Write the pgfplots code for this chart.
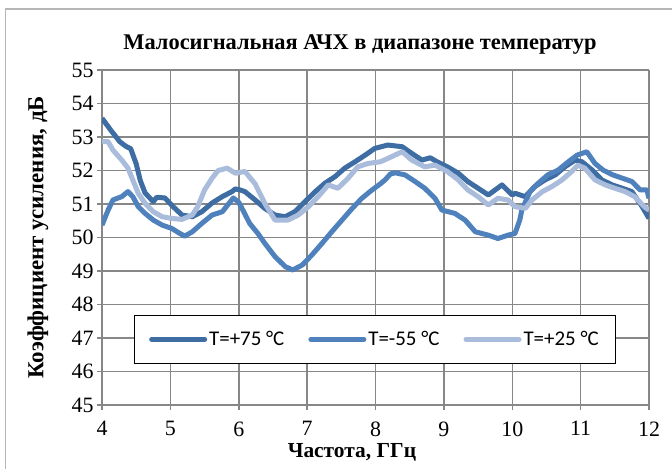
\documentclass[border=0pt]{standalone}
\usepackage{fontspec}
\setmainfont{Liberation Serif}
\newfontfamily\legfont{Carlito}
\usepackage{pgfplots}
\pgfplotsset{compat=1.18}
\definecolor{cDark}{HTML}{3E6DA4}
\definecolor{cMed}{HTML}{4F81BD}
\definecolor{cLight}{HTML}{A9BCDC}
\definecolor{cGrid}{HTML}{878787}
\begin{document}
\begin{tikzpicture}
\useasboundingbox (0,0) rectangle (672bp,469bp);
\fill[white] (0,0) rectangle (672bp,469bp);
\draw[cGrid!60, line width=1.5bp] (5.5bp,0) -- (5.5bp,460bp) -- (672bp,460bp);
\begin{axis}[
  at={(102bp,64bp)}, anchor=south west,
  width=547bp, height=335bp, scale only axis,
  xmin=4, xmax=12, ymin=45, ymax=55,
  xtick={4,5,...,12}, ytick={45,46,...,55},
  grid=major, major grid style={cGrid, line width=1.5bp},
  axis x line*=bottom, axis y line*=left,
  axis line style={cGrid, line width=1.5bp},
  tick style={cGrid, line width=1.5bp},
  tick align=outside, major tick length=5bp,
  ticklabel style={font=\fontsize{22}{26}\selectfont},
  xticklabel style={yshift=-8bp},
  /pgf/number format/assume math mode=true,
  title={Малосигнальная АЧХ в диапазоне температур},
  title style={at={(axis description cs:0.4717,1.057)}, anchor=center, font=\bfseries\fontsize{22.5}{26}\selectfont},
  xlabel={Частота, ГГц},
  xlabel style={at={(axis description cs:0.457,-0.142)}, anchor=center, font=\bfseries\fontsize{21.5}{26}\selectfont},
  ylabel={Коэффициент усиления, дБ},
  ylabel style={at={(axis description cs:-0.117,0.5)}, anchor=center, font=\bfseries\fontsize{23}{26}\selectfont},
  legend columns=3,
  legend style={at={(0.499,0.196)}, anchor=center, draw=black, line width=1bp,
    font=\legfont\fontsize{21}{25}\selectfont, inner xsep=15bp, inner ysep=14bp,
    /tikz/every even column/.append style={column sep=22bp}},
  legend image code/.code={\draw[#1, line cap=round] (0bp,0bp) -- (53bp,0bp);},
  every axis plot/.append style={line width=5bp, line join=round},
]
\addplot[cDark] coordinates {
(4.00,53.56) (4.13,53.2) (4.26,52.86) (4.35,52.72) (4.42,52.65) (4.50,52.2) (4.56,51.7)
(4.63,51.33) (4.75,51.07) (4.80,51.2) (4.92,51.18) (5.04,50.92) (5.17,50.67) (5.32,50.62)
(5.46,50.77) (5.61,51.03) (5.76,51.22) (5.90,51.37) (5.95,51.45) (6.02,51.42) (6.09,51.37)
(6.24,51.12) (6.38,50.87) (6.53,50.67) (6.68,50.62) (6.82,50.77) (6.97,51.07) (7.12,51.37)
(7.26,51.62) (7.41,51.82) (7.55,52.07) (7.70,52.26) (7.85,52.46) (7.99,52.66) (8.18,52.76)
(8.39,52.71) (8.53,52.51) (8.68,52.31) (8.80,52.38) (8.90,52.26) (9.05,52.11) (9.21,51.92)
(9.35,51.67) (9.50,51.47) (9.65,51.27) (9.85,51.57) (10.00,51.27) (10.04,51.32) (10.19,51.22)
(10.33,51.52) (10.48,51.72) (10.63,51.87) (10.77,52.11) (10.92,52.31) (11.02,52.26) (11.17,52.01)
(11.31,51.72) (11.46,51.57) (11.61,51.47) (11.75,51.37) (11.90,50.92) (12.00,50.57)
};
\addlegendentry{T=+75 °C}
\addplot[cMed] coordinates {
(4.00,50.37) (4.09,50.82) (4.16,51.12) (4.29,51.22) (4.38,51.37) (4.45,51.22) (4.53,50.92)
(4.63,50.72) (4.75,50.52) (4.88,50.37) (5.02,50.27) (5.14,50.12) (5.21,50.04) (5.32,50.17)
(5.46,50.42) (5.61,50.67) (5.76,50.77) (5.85,51.0) (5.92,51.18) (6.00,51.05) (6.06,50.82)
(6.16,50.42) (6.28,50.12) (6.38,49.83) (6.53,49.43) (6.68,49.13) (6.79,49.03) (6.93,49.18)
(7.07,49.48) (7.22,49.83) (7.36,50.17) (7.51,50.52) (7.66,50.87) (7.80,51.17) (7.95,51.42)
(8.07,51.6) (8.14,51.72) (8.22,51.9) (8.29,51.93) (8.43,51.87) (8.58,51.67) (8.72,51.47)
(8.87,51.17) (8.97,50.82) (9.16,50.72) (9.31,50.52) (9.46,50.17) (9.65,50.07) (9.79,49.97)
(9.94,50.07) (10.04,50.12) (10.11,50.52) (10.14,50.82) (10.26,51.37) (10.38,51.62) (10.52,51.87)
(10.67,52.01) (10.82,52.26) (10.95,52.46) (11.09,52.56) (11.21,52.21) (11.33,52.01) (11.47,51.87)
(11.61,51.77) (11.75,51.67) (11.87,51.42) (11.97,51.42) (12.00,51.17)
};
\addlegendentry{T=-55 °C}
\addplot[cLight] coordinates {
(4.00,52.86) (4.09,52.86) (4.16,52.61) (4.29,52.31) (4.38,52.07) (4.45,51.72) (4.53,51.32)
(4.63,51.02) (4.75,50.77) (4.88,50.62) (5.02,50.57) (5.17,50.54) (5.32,50.67) (5.40,50.92)
(5.50,51.42) (5.61,51.77) (5.70,52.0) (5.83,52.07) (5.95,51.92) (6.09,51.97) (6.24,51.6)
(6.38,51.02) (6.53,50.52) (6.72,50.52) (6.87,50.67) (7.02,50.92) (7.16,51.22) (7.31,51.57)
(7.45,51.47) (7.60,51.77) (7.74,52.11) (7.89,52.21) (8.07,52.26) (8.18,52.36) (8.39,52.56)
(8.53,52.31) (8.72,52.11) (8.87,52.16) (9.05,51.97) (9.21,51.72) (9.35,51.42) (9.50,51.22)
(9.65,50.97) (9.79,51.17) (9.94,51.12) (10.04,50.92) (10.19,50.87) (10.29,51.12) (10.44,51.37)
(10.58,51.52) (10.73,51.72) (10.87,51.97) (10.96,52.16) (11.06,52.07) (11.21,51.72) (11.36,51.57)
(11.50,51.47) (11.65,51.37) (11.79,51.22) (11.93,50.92) (12.00,50.82)
};
\addlegendentry{T=+25 °C}
\end{axis}
\end{tikzpicture}
\end{document}
